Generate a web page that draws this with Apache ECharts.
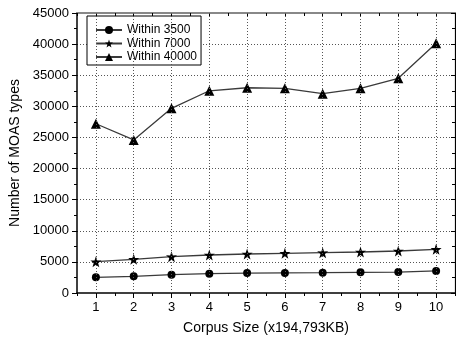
<!DOCTYPE html>
<html>
<head>
<meta charset="utf-8">
<script src="https://cdn.jsdelivr.net/npm/echarts@6/dist/echarts.min.js"></script>
<style>html,body{margin:0;padding:0;background:#fff}#c{width:456px;height:340px}</style>
</head>
<body>
<div id="c"></div>
<script>
var categories = [1, 2, 3, 4, 5, 6, 7, 8, 9, 10];
var within3500 = [2520, 2680, 2950, 3100, 3210, 3230, 3260, 3320, 3370, 3540];
var within7000 = [5030, 5410, 5840, 6110, 6270, 6380, 6480, 6590, 6750, 7020];
var within40000 = [27200, 24600, 29680, 32500, 32990, 32900, 32030, 32900, 34500, 40130];
var seriesNames = ['Within 3500', 'Within 7000', 'Within 40000'];
var yTicks = [0, 5000, 10000, 15000, 20000, 25000, 30000, 35000, 40000, 45000];

function pairs(arr) { return arr.map(function (v, i) { return [categories[i], v]; }); }

var font = 'Liberation Sans, Arial, sans-serif';
var chart = echarts.init(document.getElementById('c'), null, { renderer: 'canvas' });
var lineStyle = { color: '#3a3a3a', width: 1.3 };
function mk(name, data, symbol, size) {
  return {
    name: name, type: 'line', data: pairs(data), xAxisIndex: 0, yAxisIndex: 0,
    smooth: false, symbol: symbol, symbolSize: size, lineStyle: lineStyle,
    itemStyle: { color: '#000' }, animation: false, z: 3
  };
}
var s0 = mk(seriesNames[0], within3500, 'circle', 8);
s0.markLine = {
  silent: true, symbol: ['none', 'none'], label: { show: false }, animation: false,
  lineStyle: { color: '#555', type: [1, 2], width: 1 },
  emphasis: { disabled: true },
  data: categories.map(function (c) { return { xAxis: c }; })
};
chart.setOption({
  animation: false,
  backgroundColor: '#fff',
  grid: { left: 77, right: 1, top: 13, bottom: 47, containLabel: false, outerBoundsMode: 'none' },
  legend: {
    left: 87, top: 16, orient: 'vertical',
    data: seriesNames,
    borderColor: '#000', borderWidth: 1, backgroundColor: '#fff',
    padding: [8, 4, 2, 8], itemGap: 1.5, itemWidth: 26, itemHeight: 10,
    textStyle: { fontFamily: font, fontSize: 12, lineHeight: 12, color: '#000', padding: [0, 0, 0, 0] }
  },
  xAxis: [
    {
      type: 'value', position: 'bottom', min: 0.5, max: 10.5, interval: 0.5,
      name: 'Corpus Size (x194,793KB)', nameLocation: 'middle', nameGap: 28,
      nameTextStyle: { fontFamily: font, fontSize: 14, color: '#000' },
      axisLine: { show: true, lineStyle: { color: '#000', width: 1.5 } },
      axisTick: { show: true, inside: false, length: 3, lineStyle: { color: '#000' } },
      axisLabel: {
        fontFamily: font, fontSize: 13, color: '#000', margin: 8,
        formatter: function (v) { return (Math.abs(v - Math.round(v)) < 1e-6) ? String(Math.round(v)) : ''; }
      },
      splitLine: { show: false }
    },
    {
      type: 'category', position: 'bottom', data: categories, boundaryGap: true,
      axisLine: { show: false }, axisLabel: { show: false }, splitLine: { show: false },
      axisTick: { show: true, alignWithLabel: true, inside: false, length: 5, lineStyle: { color: '#000' } }
    },
    {
      type: 'value', position: 'top', min: 0.5, max: 10.5, interval: 0.5,
      axisLine: { show: true, lineStyle: { color: '#888', width: 2 } },
      axisTick: { show: true, inside: true, length: 3, lineStyle: { color: '#000' } },
      axisLabel: { show: false }, splitLine: { show: false }
    }
  ],
  yAxis: [
    {
      type: 'value', position: 'left', min: 0, max: 45000, interval: 5000,
      name: 'Number of MOAS types', nameLocation: 'middle', nameGap: 46,
      nameTextStyle: { fontFamily: font, fontSize: 14, color: '#000' },
      axisLine: { show: true, lineStyle: { color: '#000', width: 1.5 } },
      axisTick: { show: true, inside: false, length: 5, lineStyle: { color: '#000' } },
      minorTick: { show: true, splitNumber: 2, length: 3, lineStyle: { color: '#000' } },
      axisLabel: {
        fontFamily: font, fontSize: 13, color: '#000', margin: 8,
        formatter: function (v) { return yTicks.indexOf(v) >= 0 ? String(v) : ''; }
      },
      splitLine: { show: true, showMinLine: false, showMaxLine: false, lineStyle: { color: '#555', type: [1, 2], width: 1 } }
    },
    {
      type: 'value', position: 'right', min: 0, max: 45000, interval: 5000,
      axisLine: { show: true, lineStyle: { color: '#000', width: 1.2 } },
      axisTick: { show: true, inside: true, length: 4, lineStyle: { color: '#000' } },
      minorTick: { show: true, splitNumber: 2, length: 3, lineStyle: { color: '#000' } },
      axisLabel: { show: false }, splitLine: { show: false }
    }
  ],
  series: [
    s0,
    mk(seriesNames[1], within7000, 'path://M50,0 L61.8,35.1 L97.6,34.5 L69.1,56.2 L79.4,90.5 L50,70 L20.6,90.5 L30.9,56.2 L2.4,34.5 L38.2,35.1 Z', 11),
    mk(seriesNames[2], within40000, 'triangle', 10)
  ]
});
</script>
</body>
</html>
